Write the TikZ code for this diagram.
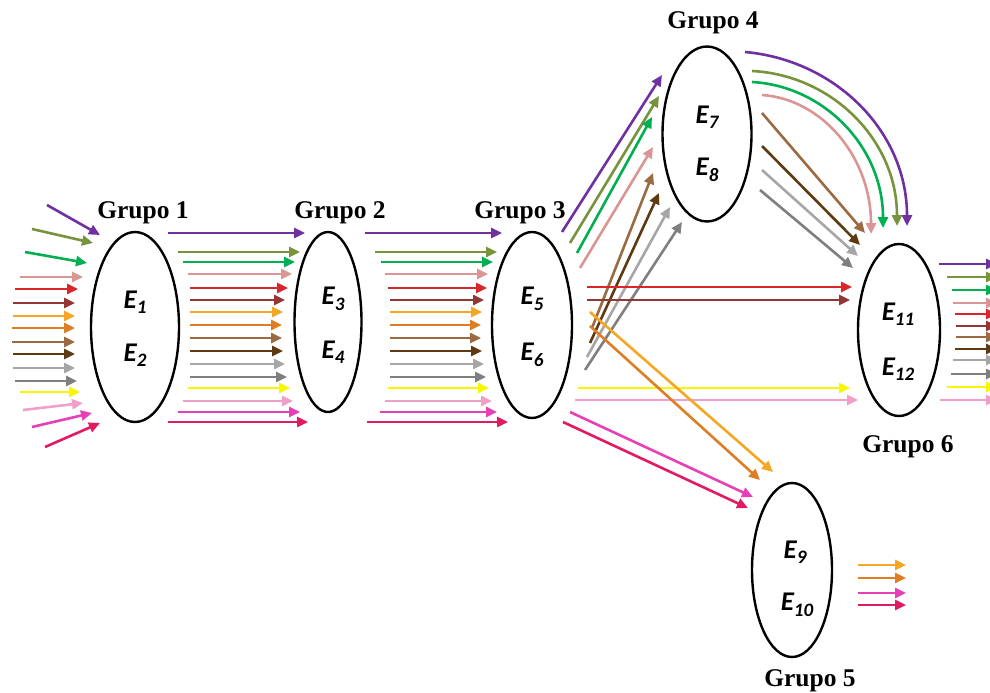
\documentclass[tikz,border=0pt]{standalone}
\usepackage{fontspec}
\setmainfont{Liberation Serif}
\newfontfamily\efont{Carlito}
\usetikzlibrary{shapes.geometric,arrows.meta}
\definecolor{fpurple}{HTML}{7030A0}
\definecolor{folive}{HTML}{77933C}
\definecolor{fgreen}{HTML}{00B050}
\definecolor{frose}{HTML}{D99694}
\definecolor{fred}{HTML}{D8262A}
\definecolor{fmaroon}{HTML}{943634}
\definecolor{forange}{HTML}{F5A623}
\definecolor{fdorange}{HTML}{DD7E25}
\definecolor{fbrown}{HTML}{9A6B40}
\definecolor{fdbrown}{HTML}{5E3A12}
\definecolor{flgray}{HTML}{A6A6A6}
\definecolor{fgray}{HTML}{7F7F7F}
\definecolor{fyellow}{HTML}{F7F700}
\definecolor{flpink}{HTML}{F0A0C8}
\definecolor{fmagenta}{HTML}{E540B5}
\definecolor{fdpink}{HTML}{E21A63}
\newcommand\Elab[2]{{\efont\bfseries\itshape\fontsize{27}{27}\selectfont E\raisebox{-0.2em}{\fontsize{19}{19}\selectfont #2}}}
\tikzset{
  flow/.style={line width=2.6pt, -{Triangle[length=11pt,width=10pt]}},
  grp/.style={draw, ellipse, line width=2.4pt, inner sep=0pt},
  glabel/.style={font=\bfseries\fontsize{25.5}{25.5}\selectfont, inner sep=0pt},
  elabel/.style={inner sep=0pt}
}
\begin{document}
\begin{tikzpicture}[x=1pt,y=-1pt]
\useasboundingbox (0,0) rectangle (990,693);
% groups
\node[grp, minimum width=88, minimum height=190] (g1) at (135,327) {};
\node[grp, minimum width=67, minimum height=180] (g2) at (328,322) {};
\node[grp, minimum width=80, minimum height=186] (g3) at (532,325) {};
\node[grp, minimum width=89, minimum height=175] (g4) at (707,134) {};
\node[grp, minimum width=82, minimum height=172] (g6) at (899,330) {};
\node[grp, minimum width=80, minimum height=174] (g5) at (792,570) {};
% labels
\node[glabel] (l1) at (143,213) {Grupo 1};
\node[glabel] (l2) at (340,213) {Grupo 2};
\node[glabel] (l3) at (520,213) {Grupo 3};
\node[glabel] (l4) at (713,23) {Grupo 4};
\node[glabel] (l6) at (908,447) {Grupo 6};
\node[glabel] (l5) at (810,681) {Grupo 5};
\node[elabel] (e1) at (135,302) {\Elab{}{1}};
\node[elabel] (e2) at (135,355) {\Elab{}{2}};
\node[elabel] (e3) at (333,299) {\Elab{}{3}};
\node[elabel] (e4) at (333,352) {\Elab{}{4}};
\node[elabel] (e5) at (532,299) {\Elab{}{5}};
\node[elabel] (e6) at (532,355) {\Elab{}{6}};
\node[elabel] (e7) at (707,117) {\Elab{}{7}};
\node[elabel] (e8) at (707,170) {\Elab{}{8}};
\node[elabel] (e9) at (795,552) {\Elab{}{9}};
\node[elabel] (e10) at (797,605) {\Elab{}{10}};
\node[elabel] (e11) at (898,314) {\Elab{}{11}};
\node[elabel] (e12) at (898,369) {\Elab{}{12}};
% inputs to group 1
\foreach \c/\xa/\ya/\xb/\yb [count=\i] in {
 fpurple/47/205/100/235, folive/32/229/93/243, fgreen/25/252/87/263,
 frose/20/277/83/277, fred/15/289/78/289, fmaroon/13/303/75/303,
 forange/13/316/75/316, fdorange/12/328/75/328, fbrown/12/342/75/342,
 fdbrown/13/354/75/354, flgray/13/368/75/368, fgray/15/381/77/381,
 fyellow/20/392/80/392, flpink/23/410/83/403, fmagenta/32/427/92/413,
 fdpink/45/447/100/423}{
 \coordinate (ia\i) at (\xa,\ya); \coordinate (ib\i) at (\xb,\yb);
 \draw[flow,\c] (ia\i) -- (ib\i);
}
% group 1 -> group 2 and group 2 -> group 3
\foreach \c/\y/\xa/\xb/\xc/\xd [count=\i] in {
 fpurple/233/168/305/365/502, folive/252/178/300/375/497,
 fgreen/262/183/295/381/493, frose/274/188/292/385/488,
 fred/288/190/288/388/487, fmaroon/300/190/285/390/484,
 forange/312/190/283/390/482, fdorange/325/190/282/390/481,
 fbrown/338/190/282/390/481, fdbrown/351/190/283/390/482,
 flgray/364/190/285/390/484, fgray/377/190/287/390/486,
 fyellow/388/188/290/388/489, flpink/401/183/293/385/492,
 fmagenta/412/178/300/380/497, fdpink/422/168/308/367/508}{
 \coordinate (pa\i) at (\xa,\y); \coordinate (pb\i) at (\xb,\y);
 \coordinate (qa\i) at (\xc,\y); \coordinate (qb\i) at (\xd,\y);
 \draw[flow,\c] (pa\i) -- (pb\i);
 \draw[flow,\c] (qa\i) -- (qb\i);
}
% group 3 outgoing
\foreach \c/\xa/\ya/\xb/\yb [count=\i] in {
 fpurple/562/232/662/75, folive/570/243/659/96, fgreen/577/253/652/117,
 frose/580/268/653/147, fbrown/592/328/653/173, fdbrown/590/343/659/193,
 flgray/587/357/670/207, fgray/585/370/682/222,
 fred/587/287/852/287, fmaroon/587/300/850/300,
 fyellow/578/388/850/388, flpink/575/400/858/400,
 forange/590/312/773/472, fdorange/590/326/760/480,
 fmagenta/570/412/753/497, fdpink/563/422/748/508}{
 \coordinate (ra\i) at (\xa,\ya); \coordinate (rb\i) at (\xb,\yb);
 \draw[flow,\c] (ra\i) -- (rb\i);
}
% group 4 -> group 6, arcs
\foreach \c/\xa/\ya/\xp/\yp/\xq/\yq/\xb/\yb [count=\i] in {
 fpurple/745/52/835/60/907/131/907/226,
 folive/752/71/832/75/897/140/897/226,
 fgreen/752/82/824/86/883/147/883/228,
 frose/762/95/822/99/871/157/871/234}{
 \coordinate (sa\i) at (\xa,\ya); \coordinate (sb\i) at (\xb,\yb);
 \draw[flow,\c] (sa\i) .. controls (\xp,\yp) and (\xq,\yq) .. (sb\i);
}
% group 4 -> group 6, straight
\foreach \c/\xa/\ya/\xb/\yb [count=\i] in {
 fbrown/762/113/865/233, fdbrown/762/146/860/245,
 flgray/762/170/858/256, fgray/760/190/853/268}{
 \coordinate (ta\i) at (\xa,\ya); \coordinate (tb\i) at (\xb,\yb);
 \draw[flow,\c] (ta\i) -- (tb\i);
}
% group 6 outputs
\foreach \c/\xa/\y [count=\i] in {
 fpurple/939/264, folive/947/277, fgreen/952/290, frose/953/303,
 fred/955/314, fmaroon/956/326, fbrown/956/337, fdbrown/955/349,
 flgray/953/360, fgray/951/374, fyellow/947/387, flpink/940/400}{
 \coordinate (ua\i) at (\xa,\y); \coordinate (ub\i) at (997,\y);
 \draw[flow,\c] (ua\i) -- (ub\i);
}
% group 5 outputs
\foreach \c/\y [count=\i] in {forange/565, fdorange/578, fmagenta/593, fdpink/605}{
 \coordinate (va\i) at (858,\y); \coordinate (vb\i) at (906,\y);
 \draw[flow,\c] (va\i) -- (vb\i);
}
\end{tikzpicture}
\end{document}
